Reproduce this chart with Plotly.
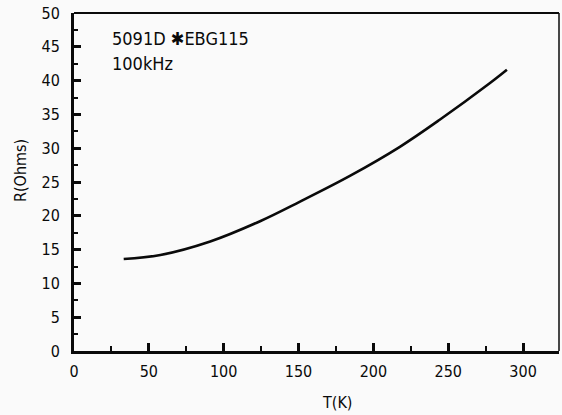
import plotly.graph_objects as go

# Data
T_K = [33.2, 57.7, 91.0, 124.3, 151.0, 184.3, 217.7, 244.3, 277.7, 289.2]
R_ohms = [13.6, 14.2, 16.2, 19.2, 22.1, 25.9, 30.2, 34.2, 39.6, 41.6]
x_ticks = [0, 50, 100, 150, 200, 250, 300]
y_ticks = [0, 5, 10, 15, 20, 25, 30, 35, 40, 45, 50]
label_line1 = "5091D ✱EBG115"
label_line2 = "100kHz"
x_title = "T(K)"
y_title = "R(Ohms)"

FONT = "DejaVu Sans Condensed, Liberation Sans Narrow, DejaVu Sans, sans-serif"
INK = "#0a0a0a"

fig = go.Figure()
fig.add_trace(go.Scatter(
    x=T_K, y=R_ohms, mode="lines",
    line=dict(color=INK, width=2.6, shape="spline", smoothing=1.0),
    showlegend=False, hoverinfo="skip",
))

fig.update_layout(
    width=562, height=415,
    margin=dict(l=74, r=3, t=13, b=64),
    paper_bgcolor="#fafafa", plot_bgcolor="#fafafa",
    font=dict(family=FONT, color=INK, size=15),
    xaxis=dict(
        range=[0, 324], tickvals=x_ticks, ticktext=[str(v) for v in x_ticks],
        ticks="inside", ticklen=8, tickwidth=2.5, tickcolor=INK,
        minor=dict(dtick=25, ticks="inside", ticklen=5, tickwidth=2, tickcolor=INK),
        showline=True, linewidth=3, linecolor=INK, mirror=False,
        showgrid=False, zeroline=False, ticklabelstandoff=4,
        tickfont=dict(size=16),
    ),
    yaxis=dict(
        range=[0, 50], tickvals=y_ticks, ticktext=[str(v) for v in y_ticks],
        ticks="inside", ticklen=7, tickwidth=2.5, tickcolor=INK,
        minor=dict(dtick=2.5, ticks="inside", ticklen=4, tickwidth=2, tickcolor=INK),
        showline=True, linewidth=3, linecolor=INK, mirror=False,
        showgrid=False, zeroline=False, ticklabelstandoff=8,
        tickfont=dict(size=16),
    ),
    shapes=[
        dict(type="line", xref="paper", yref="paper", x0=0, x1=1, y0=1, y1=1,
             line=dict(color=INK, width=2)),
        dict(type="line", xref="paper", yref="paper", x0=1, x1=1, y0=0, y1=1,
             line=dict(color=INK, width=1.5)),
    ],
    annotations=[
        dict(text=label_line1, xref="x", yref="y", x=24, y=46.2, showarrow=False,
             xanchor="left", yanchor="middle", font=dict(size=18, family=FONT, color=INK)),
        dict(text=label_line2, xref="x", yref="y", x=24, y=42.5, showarrow=False,
             xanchor="left", yanchor="middle", font=dict(size=18, family=FONT, color=INK)),
        dict(text=x_title, xref="paper", yref="paper", x=(337 - 74) / 485, y=-(402 - 350) / 338,
             showarrow=False, xanchor="center", yanchor="middle", font=dict(size=16)),
        dict(text=y_title, xref="paper", yref="paper", x=-(74 - 21) / 485, y=(350 - 170) / 338,
             showarrow=False, xanchor="center", yanchor="middle", textangle=-90, font=dict(size=16)),
    ],
)

fig.write_html("out.html")
